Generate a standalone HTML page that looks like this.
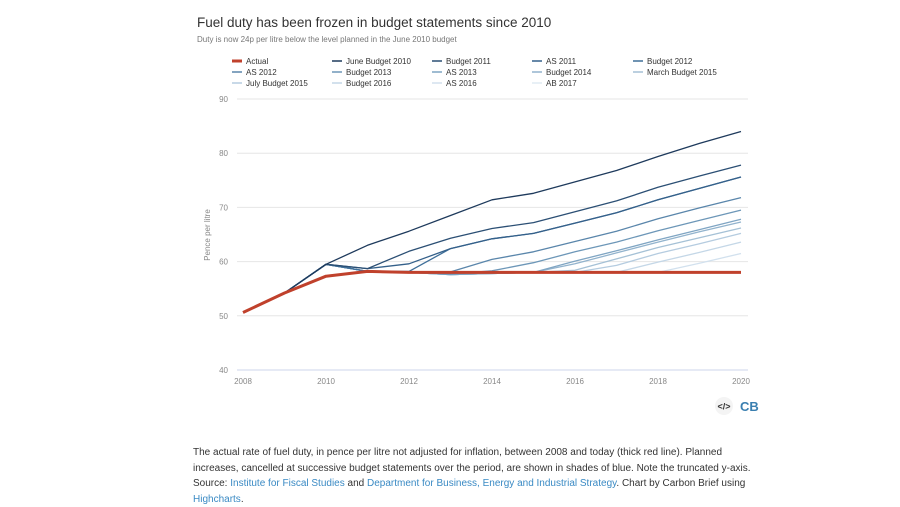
<!DOCTYPE html>
<html><head><meta charset="utf-8"><style>
body{margin:0;width:900px;height:506px;background:#fff;font-family:"Liberation Sans",sans-serif;overflow:hidden;position:relative}
svg{position:absolute;left:0;top:0}
#cap{position:absolute;left:193px;top:445px;width:570px;font-size:10px;line-height:15.5px;color:#333}
#cap a{color:#3a8ac4;text-decoration:none}
</style></head><body>
<svg id="chart" width="900" height="440" xmlns="http://www.w3.org/2000/svg">
<text x="197" y="27" font-size="13.5" fill="#333">Fuel duty has been frozen in budget statements since 2010</text>
<text x="197" y="42" font-size="8" fill="#777">Duty is now 24p per litre below the level planned in the June 2010 budget</text>
<g id="legend"></g>
<g id="grid"></g>
<g id="series"></g>
<text transform="translate(210,235) rotate(-90)" text-anchor="middle" font-size="8" fill="#888">Pence per litre</text>
<g><circle cx="724" cy="406" r="9" fill="#f4f4f4"/><text x="724" y="409.5" text-anchor="middle" font-size="9" font-weight="bold" fill="#333">&lt;/&gt;</text></g>
<text x="740" y="411" font-size="13" font-weight="bold" fill="#3a7fb0">CB</text>
</svg>
<div id="cap">The actual rate of fuel duty, in pence per litre not adjusted for inflation, between 2008 and today (thick red line). Planned increases, cancelled at successive budget statements over the period, are shown in shades of blue. Note the truncated y-axis. Source: <a>Institute for Fiscal Studies</a> and <a>Department for Business, Energy and Industrial Strategy</a>. Chart by Carbon Brief using <a>Highcharts</a>.</div>
<script>
const years=[2008,2009,2010,2011,2012,2013,2014,2015,2016,2017,2018,2019,2020];
const yTicks=[40,50,60,70,80,90];
const xTicks=[2008,2010,2012,2014,2016,2018,2020];
const seriesNames=["Actual","June Budget 2010","Budget 2011","AS 2011","Budget 2012","AS 2012","Budget 2013","AS 2013","Budget 2014","March Budget 2015","July Budget 2015","Budget 2016","AS 2016","AB 2017"];
const actual=[50.6,54.2,57.3,58.2,58.0,58.0,58.0,58.0,58.0,58.0,58.0,58.0,58.0];
const june2010=[null,54.2,59.5,63.0,65.6,68.5,71.4,72.6,74.7,76.8,79.4,81.8,84.0];
const budget2011=[null,54.2,59.5,58.7,61.9,64.3,66.1,67.2,69.2,71.2,73.7,75.8,77.8];
const as2011=[null,54.2,59.5,58.7,59.6,62.4,64.2,65.2,67.1,69.0,71.4,73.5,75.6];
const budget2012=[null,54.2,59.5,58.2,58.2,62.4,64.2,65.2,67.1,69.0,71.4,73.5,75.6];
const as2012=[null,54.2,59.5,58.2,58.0,58.1,60.4,61.8,63.7,65.6,67.9,69.9,71.8];
const budget2013=[null,54.2,59.5,58.2,58.0,57.7,58.3,59.8,61.8,63.6,65.7,67.6,69.5];
const as2013=[null,54.2,59.5,58.2,58.0,57.6,57.8,58.0,60.1,62.0,64.0,65.9,67.8];
const budget2014=[null,54.2,59.5,58.2,58.0,57.6,57.8,58.0,59.6,61.6,63.6,65.5,67.3];
const march2015=[null,54.2,59.5,58.2,58.0,57.6,57.8,58.0,58.4,60.5,62.6,64.4,66.2];
const july2015=[null,54.2,59.5,58.2,58.0,57.6,57.8,58.0,58.0,59.3,61.5,63.3,65.2];
const budget2016=[null,54.2,59.5,58.2,58.0,57.6,57.8,58.0,58.0,58.0,59.9,61.7,63.6];
const as2016=[null,54.2,59.5,58.2,58.0,57.6,57.8,58.0,58.0,58.0,58.0,59.7,61.5];
const ab2017=[null,54.2,59.5,58.2,58.0,57.6,57.8,58.0,58.0,58.0,58.0,58.0,58.0];
const allSeries=[actual,june2010,budget2011,as2011,budget2012,as2012,budget2013,as2013,budget2014,march2015,july2015,budget2016,as2016,ab2017];
const colors=["#c0412c","#1e3a5c","#2b4f74","#34608a","#3f6f99","#5a86ab","#6d97b8","#7fa5c3","#92b3cd","#a5c1d6","#b5cce0","#c4d7e7","#d2e1ee","#e0eaf3"];
const NS="http://www.w3.org/2000/svg";
const x=v=>243+(v-2008)*(741-243)/12;
const y=v=>370-(v-40)*(370-99)/50;
function mk(t,a,p){const e=document.createElementNS(NS,t);for(const k in a)e.setAttribute(k,a[k]);p.appendChild(e);return e;}
const grid=document.getElementById('grid');
yTicks.forEach(t=>{
 const l=mk('line',{x1:237,x2:748,y1:y(t),y2:y(t),stroke:t===40?'#ccd6eb':'#e6e6e6','stroke-width':1},grid);
 
 
 const tx=mk('text',{x:228,y:y(t)+3,'text-anchor':'end','font-size':8,fill:'#888'},grid);tx.textContent=t;
 
 
});
xTicks.forEach(t=>{
 const tx=mk('text',{x:x(t),y:384,'text-anchor':'middle','font-size':8,fill:'#888'},grid);tx.textContent=t;
 
 
});
const sg=document.getElementById('series');
for(let i=allSeries.length-1;i>=0;i--){
 const d=allSeries[i];let p='';
 d.forEach((v,j)=>{if(v!==null)p+=(p?'L':'M')+x(years[j]).toFixed(1)+','+y(v).toFixed(1);});
 const e=mk('path',{d:p,fill:'none',stroke:colors[i],'stroke-width':i===0?3:1.3,'stroke-linejoin':'round'},sg);
 
 
}
const lg=document.getElementById('legend');
const colX=[232,332,432,532,633];
seriesNames.forEach((n,i)=>{
 const cx=colX[i%5],cy=61+Math.floor(i/5)*11;
 const g=mk('g',{},lg);
 
 
 mk('line',{x1:cx,x2:cx+10,y1:cy,y2:cy,stroke:colors[i],'stroke-width':i===0?3:1.5},g);
 const t=mk('text',{x:cx+14,y:cy+3,'font-size':8,fill:'#333'},g);t.textContent=n;
});
</script>
</body></html>
